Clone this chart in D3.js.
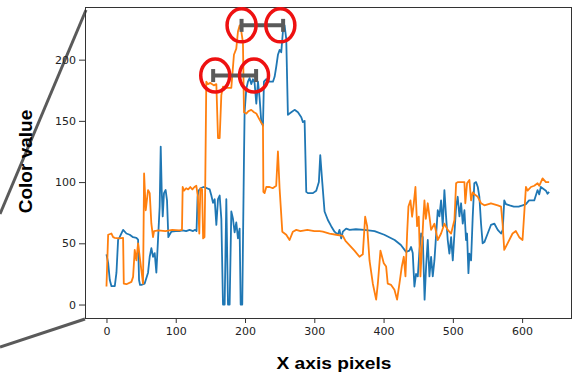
<!DOCTYPE html>
<html>
<head>
<meta charset="utf-8">
<script src="https://cdn.jsdelivr.net/npm/d3@7"></script>
<style>
  body { margin: 0; background: #fff; }
  .tick text { font-family: "DejaVu Sans", sans-serif; font-size: 11px; fill: #222; }
  .tick line { stroke: #333; }
  .axis-name { font-family: "Liberation Sans", Arial, sans-serif; font-weight: bold; fill: #000; }
</style>
</head>
<body>
<div id="chart"></div>
<script>
// series values: [x pixel, colour value]
const blueSeries = [[0,41],[2.4,34],[4.8,20],[7.2,15],[12,15],[14.4,26],[16.8,53],[19,55],[24,61],[28.8,58],[33.6,57],[38.4,55],[43.2,54.5],[45.6,53],[47,20],[48.5,16],[50.4,16],[55,17],[60,26],[62.4,39],[64.8,46],[67.2,39],[69.6,42],[72,26],[74.4,53],[76.8,80],[78.3,129],[79.7,94],[81.2,72],[83,91],[85.4,93.5],[87.4,85],[89.3,55],[91,57],[93.6,59.5],[100,60],[105,60],[110,60.5],[115,60],[120,61],[125,60],[128,61],[130,60],[131.5,88],[133,93],[136,95],[140,96],[145,95],[149,94],[151.4,89],[153.8,83],[156.2,86],[158.6,65],[161,86],[163.4,89],[165.8,70],[168.2,0],[170.6,0],[173,86],[175.4,0],[177.8,0],[180.2,76],[182.6,70],[185,59],[187.4,67],[189.8,54],[192.2,62],[193.7,0],[196,0],[198.5,120],[199.4,157],[201.8,176],[204.2,182],[206.6,185],[209,180],[211.4,184],[213.8,181],[216.3,164],[218.7,182],[221,169],[223.5,149],[225.9,146],[227.3,182],[230.7,184],[235.5,182],[240.3,182],[242.7,186],[245,194],[247.5,204],[250,208],[252.3,206],[254.7,223],[257.1,228],[259.5,217],[261.9,155],[266.7,157],[271.5,159],[276.4,157],[281.2,153],[283.6,149],[286,150],[288.4,92],[290.8,91],[298,91],[302.8,93],[306.6,100],[308.6,122],[311.5,100],[314.8,76],[319.6,69],[324.4,64],[329.2,59.5],[334,57],[336.4,61],[338.8,54],[341.2,59.5],[346,62],[351,61],[360,61.5],[372,61],[387,60],[401,57],[416,52.7],[425,48.6],[432.5,43],[437.3,44],[439.7,47],[442.1,42],[444.5,14.7],[446.9,25],[449.4,23],[451.8,44],[454.2,58],[456.6,55],[459.2,4],[461.4,31],[463.8,52.7],[466.2,23],[468.6,39],[471,23],[473.4,36],[478.2,77],[480.6,72],[483,85],[485.4,64],[487.8,93.5],[490.2,72],[492.6,52.7],[495,41.6],[497.5,55],[499.9,36],[502.3,58],[504.7,80],[507,88],[509.5,72],[511.9,82.7],[514.3,66],[516.7,77],[519,52.7],[520.5,58],[522.5,25.6],[523.9,41.6],[526.3,36],[528.7,72],[531,99],[533.5,100],[536,96],[538.3,88],[540.7,66],[543,50],[545.5,51],[550.3,58],[555,65],[560,66],[564.8,61],[569.6,58],[572,61],[574.2,85],[576.6,82],[582,81],[588,80],[595,80],[600.6,81],[605.5,82],[610,85],[617.5,85],[622.3,93.5],[624.7,90],[627,96],[629.5,95],[634.3,93],[636.7,90.5],[639,92]]

const orangeSeries = [[0,14.7],[2.4,57],[7.2,58],[9.6,55],[12,54.5],[18,54],[24,54.5],[25,17],[28.8,16.6],[36,18.5],[38.4,22.6],[40.8,44.6],[43.2,36],[45.6,50],[48,39],[50.4,28],[52.8,17],[54.3,107],[56.7,77],[60,93.5],[62.4,91],[64.8,66],[67.2,55],[68.7,60],[75,60.5],[85,60],[95,61],[105,60.5],[109,61],[110,96],[112,93],[115,95],[118,94],[121,96],[124,94],[127,96],[129.7,97],[132,88],[134,58],[135.5,95],[138,94],[139.5,54],[141.5,55],[142.5,95],[144.1,182],[146.5,180],[150,181],[155,179],[158.6,180],[161,136],[163.4,136],[165.8,171],[168.2,178],[173,177],[180.2,177],[184,204],[187.4,209],[189.8,223],[192.2,228],[194.6,223],[197,214],[198.5,157],[201.8,156],[205,158],[209,159],[213,157],[216.3,156],[221,151],[224,148],[225.9,147],[226.5,92],[228.3,91],[230.7,96],[235.5,96],[240,95],[245,97],[247.5,125],[249.9,95],[253.8,59.5],[259.5,57],[264.3,52.7],[269.1,59.5],[274,61],[280,60],[290,61],[300,60],[307.6,60],[312.4,59.5],[322,58],[331.6,57],[341.3,56],[345,52],[350,49],[358,44],[365.2,39],[370,41],[373.4,71.7],[376.3,64],[379.7,36],[384.5,17],[389.3,4],[391.7,17],[395.5,44],[400.3,33.7],[403.7,31],[406,17],[410.9,16],[415.7,12],[419.5,4],[422.9,17],[426.3,31],[429.2,39],[431.6,23],[434,58],[435.9,80],[438.8,85],[441.2,71.7],[443.6,82.7],[446,96],[448.4,64],[450.8,71.7],[453.2,23],[455.1,44],[457.5,71.7],[459,85],[461,70],[463.8,82.7],[466.2,72],[468.6,61],[473.4,66],[478.2,52.7],[483,58],[487.8,66],[492.6,61],[497.5,58],[502.3,69],[504.7,99],[507,100],[512,100],[516.7,100],[518,82.7],[520.5,99],[523.9,101.7],[526.3,85],[528.7,91.6],[531,90],[536,88],[540.7,82.7],[545.5,81],[555,82.7],[564.8,81],[569.6,80],[571.8,66],[574.2,44.6],[579,50],[586.2,58],[591,60],[595.8,55],[600.6,52.7],[605.5,96],[607.9,93],[612.7,96],[617.5,97],[622.3,99],[624.7,97],[629.5,103],[634.3,100],[639,100]]

const xTicks = [0, 100, 200, 300, 400, 500, 600]
const yTicks = [0, 50, 100, 150, 200]

// gray span markers (data coords) and the red rings around their ends
const spans = [[195, 255, 228], [154, 216, 187]]
const rings = [[195, 228], [251, 228], [157, 187], [213, 187]]

// SIZES
const W = 574, H = 376
const margin = { top: 7, right: 2, bottom: 58, left: 85 }

const svg = d3.select('#chart').append('svg')
  .attr('width', W)
  .attr('height', H)

// X AXIS
const x = d3.scaleLinear()
  .domain([-31, 672])
  .range([margin.left, W - margin.right])

// Y AXIS
const y = d3.scaleLinear()
  .domain([-11, 243])
  .range([H - margin.bottom, margin.top])

// zoom connector lines from the inset
svg.append('g')
  .attr('stroke', '#5a5a5a')
  .attr('stroke-width', 3)
  .selectAll('line')
  .data([[margin.left + 1, margin.top + 3, 0, 214], [margin.left, H - margin.bottom + 1, 0, 347]])
  .join('line')
  .attr('x1', d => d[0]).attr('y1', d => d[1])
  .attr('x2', d => d[2]).attr('y2', d => d[3])

svg.append('g')
  .attr('transform', `translate(0,${H - margin.bottom})`)
  .call(d3.axisBottom(x).tickValues(xTicks).tickSize(5).tickPadding(4))
  .call(g => g.select('.domain').remove())

svg.append('g')
  .attr('transform', `translate(${margin.left},0)`)
  .call(d3.axisLeft(y).tickValues(yTicks).tickSize(6).tickPadding(3))
  .call(g => g.select('.domain').remove())

// LINES
const line = d3.line()
  .x(d => x(d[0]))
  .y(d => y(d[1]))

svg.append('path')
  .datum(blueSeries)
  .attr('fill', 'none')
  .attr('stroke', '#1f77b4')
  .attr('stroke-width', 1.8)
  .attr('stroke-linejoin', 'round')
  .attr('d', line)

svg.append('path')
  .datum(orangeSeries)
  .attr('fill', 'none')
  .attr('stroke', '#ff7f0e')
  .attr('stroke-width', 1.8)
  .attr('stroke-linejoin', 'round')
  .attr('d', line)

// frame
svg.append('rect')
  .attr('x', margin.left + 0.5)
  .attr('y', margin.top + 0.5)
  .attr('width', W - margin.left - margin.right - 1)
  .attr('height', H - margin.top - margin.bottom)
  .attr('fill', 'none')
  .attr('stroke', '#333')

// SPAN MARKERS
const span = svg.append('g')
  .attr('stroke', '#5a5a5a')
  .attr('stroke-width', 4)
  .selectAll('g')
  .data(spans)
  .join('g')

span.append('line')
  .attr('x1', d => x(d[0])).attr('x2', d => x(d[1]))
  .attr('y1', d => y(d[2])).attr('y2', d => y(d[2]))

span.selectAll('line.cap')
  .data(d => [[d[0], d[2]], [d[1], d[2]]])
  .join('line')
  .attr('class', 'cap')
  .attr('x1', d => x(d[0])).attr('x2', d => x(d[0]))
  .attr('y1', d => y(d[1]) - 6.5).attr('y2', d => y(d[1]) + 6.5)

svg.append('g')
  .selectAll('ellipse')
  .data(rings)
  .join('ellipse')
  .attr('cx', d => x(d[0]))
  .attr('cy', d => y(d[1]))
  .attr('rx', 14.5)
  .attr('ry', 16.5)
  .attr('fill', 'none')
  .attr('stroke', '#ee1111')
  .attr('stroke-width', 3.5)

// AXIS NAMES
svg.append('text')
  .attr('class', 'axis-name')
  .attr('transform', 'translate(31.5,161.5) rotate(-90)')
  .attr('text-anchor', 'middle')
  .style('font-size', '19px')
  .text('Color value')

svg.append('text')
  .attr('class', 'axis-name')
  .attr('x', 276.5)
  .attr('y', 368.5)
  .attr('textLength', 115)
  .attr('lengthAdjust', 'spacingAndGlyphs')
  .style('font-size', '17px')
  .text('X axis pixels')
</script>
</body>
</html>
